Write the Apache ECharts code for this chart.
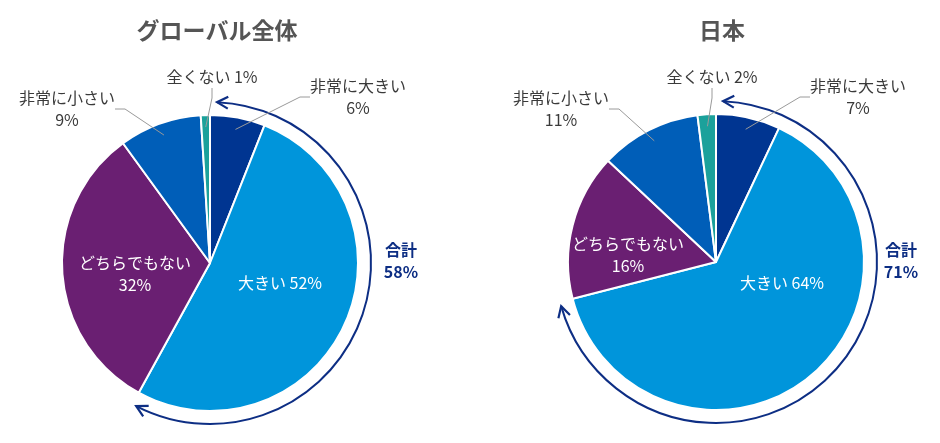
<!DOCTYPE html>
<html><head><meta charset="utf-8">
<script src="https://cdn.jsdelivr.net/npm/echarts@6/dist/echarts.min.js"></script>
<style>html,body{margin:0;padding:0;background:#fff}#c{width:940px;height:443px}</style>
</head><body><div id="c"></div>
<script>
const categories = ['非常に大きい', '大きい', 'どちらでもない', '非常に小さい', '全くない'];
const globalValues = [6, 52, 32, 9, 1];
const japanValues = [7, 64, 16, 11, 2];
const chartTitles = ['グローバル全体', '日本'];
const totalLabel = '合計';

const colors = ['#003591', '#0095db', '#6a1f72', '#005eb8', '#1ba19b'];
const navy = '#0d2e84';
const FONT = '"Noto Sans CJK JP", "Noto Sans", sans-serif';

const pies = [
  { center: [210, 263], values: globalValues,
    labelPos: [[358, 97], [280, 283], [135, 274], [67, 109], [212, 77]],
    titleX: 212, totalX: 401 },
  { center: [716, 262], values: japanValues,
    labelPos: [[858, 97], [782, 283], [628, 255], [561, 109], [712, 77]],
    titleX: 717, totalX: 901 }
];
const R = 148;
const ARC_R = 161;

function makeData(values, mode) {
  return categories.map((name, i) => {
    const inside = (i === 1 || i === 2);
    const show = mode === 'main' ? inside : !inside;
    const d = { name, value: values[i] };
    if (mode === 'main') {
      d.itemStyle = { color: colors[i] };
      d.label = { show, position: 'inside',
        formatter: i === 1 ? '{b} {c}%' : '{b}\n{c}%' };
    } else {
      d.label = { show, position: 'outside',
        formatter: i === 4 ? '{b} {c}%' : '{b}\n{c}%' };
      d.labelLine = { show };
    }
    return d;
  });
}

const series = [];
const titles = [];
const graphics = [];

pies.forEach((p, k) => {
  series.push({
    type: 'pie', center: p.center, radius: [0, R], startAngle: 90, clockwise: true,
    animation: false, silent: true, emphasis: { disabled: true },
    itemStyle: { borderColor: '#fff', borderWidth: 2 },
    label: { color: '#fff', fontSize: 16, lineHeight: 22, fontFamily: FONT, overflow: 'none' },
    labelLine: { show: false },
    data: makeData(p.values, 'main'),
    labelLayout: (params) => {
      const pos = p.labelPos[params.dataIndex];
      return { x: pos[0], y: pos[1], align: 'center', verticalAlign: 'middle' };
    }
  });
  series.push({
    type: 'pie', center: p.center, radius: [0, 136], startAngle: 90, clockwise: true,
    animation: false, silent: true, emphasis: { disabled: true }, z: 5,
    itemStyle: { color: 'rgba(0,0,0,0)', borderWidth: 0 },
    label: { color: '#3a3a3a', fontSize: 16, lineHeight: 22, fontFamily: FONT, overflow: 'none' },
    labelLine: { show: true, length: 12, length2: 10, lineStyle: { color: '#9a9a9a', width: 1 } },
    data: makeData(p.values, 'labels'),
    labelLayout: (params) => {
      const pos = p.labelPos[params.dataIndex];
      return { x: pos[0], y: pos[1], align: 'center', verticalAlign: 'middle' };
    }
  });

  titles.push({
    text: chartTitles[k], left: p.titleX, top: 14, textAlign: 'center',
    textStyle: { fontSize: 23, fontWeight: 'bold', color: '#555', fontFamily: FONT }
  });

  // bracket arc covering 非常に大きい + 大きい
  const total = p.values[0] + p.values[1];
  const cx = p.center[0], cy = p.center[1];
  const toRad = d => (d - 90) * Math.PI / 180;
  const a0 = toRad(2.5), a1 = toRad(total * 3.6 - 1.5);
  graphics.push({
    type: 'arc', silent: true,
    shape: { cx, cy, r: ARC_R, startAngle: a0, endAngle: a1, clockwise: true },
    style: { stroke: navy, lineWidth: 2, fill: null }
  });
  const head = (a, sign) => {
    const px = cx + ARC_R * Math.cos(a), py = cy + ARC_R * Math.sin(a);
    const tx = -Math.sin(a) * sign, ty = Math.cos(a) * sign;
    const nx = -ty, ny = tx;
    const L = 11, W = 6;
    return {
      type: 'polyline', silent: true,
      shape: { points: [[px - tx * L + nx * W, py - ty * L + ny * W], [px, py],
                        [px - tx * L - nx * W, py - ty * L - ny * W]] },
      style: { stroke: navy, lineWidth: 2.2, fill: null, lineJoin: 'miter' }
    };
  };
  graphics.push(head(a0, -1));
  graphics.push(head(a1, 1));
  graphics.push({
    type: 'text', silent: true, x: p.totalX, y: 261,
    style: { text: totalLabel + '\n' + total + '%', fill: navy, font: 'bold 16px ' + FONT,
             lineHeight: 22, align: 'center', verticalAlign: 'middle' }
  });
});

const chart = echarts.init(document.getElementById('c'), null, { renderer: 'canvas' });
chart.setOption({
  backgroundColor: '#fff',
  animation: false,
  title: titles,
  series,
  graphic: graphics
});
</script>
</body></html>
